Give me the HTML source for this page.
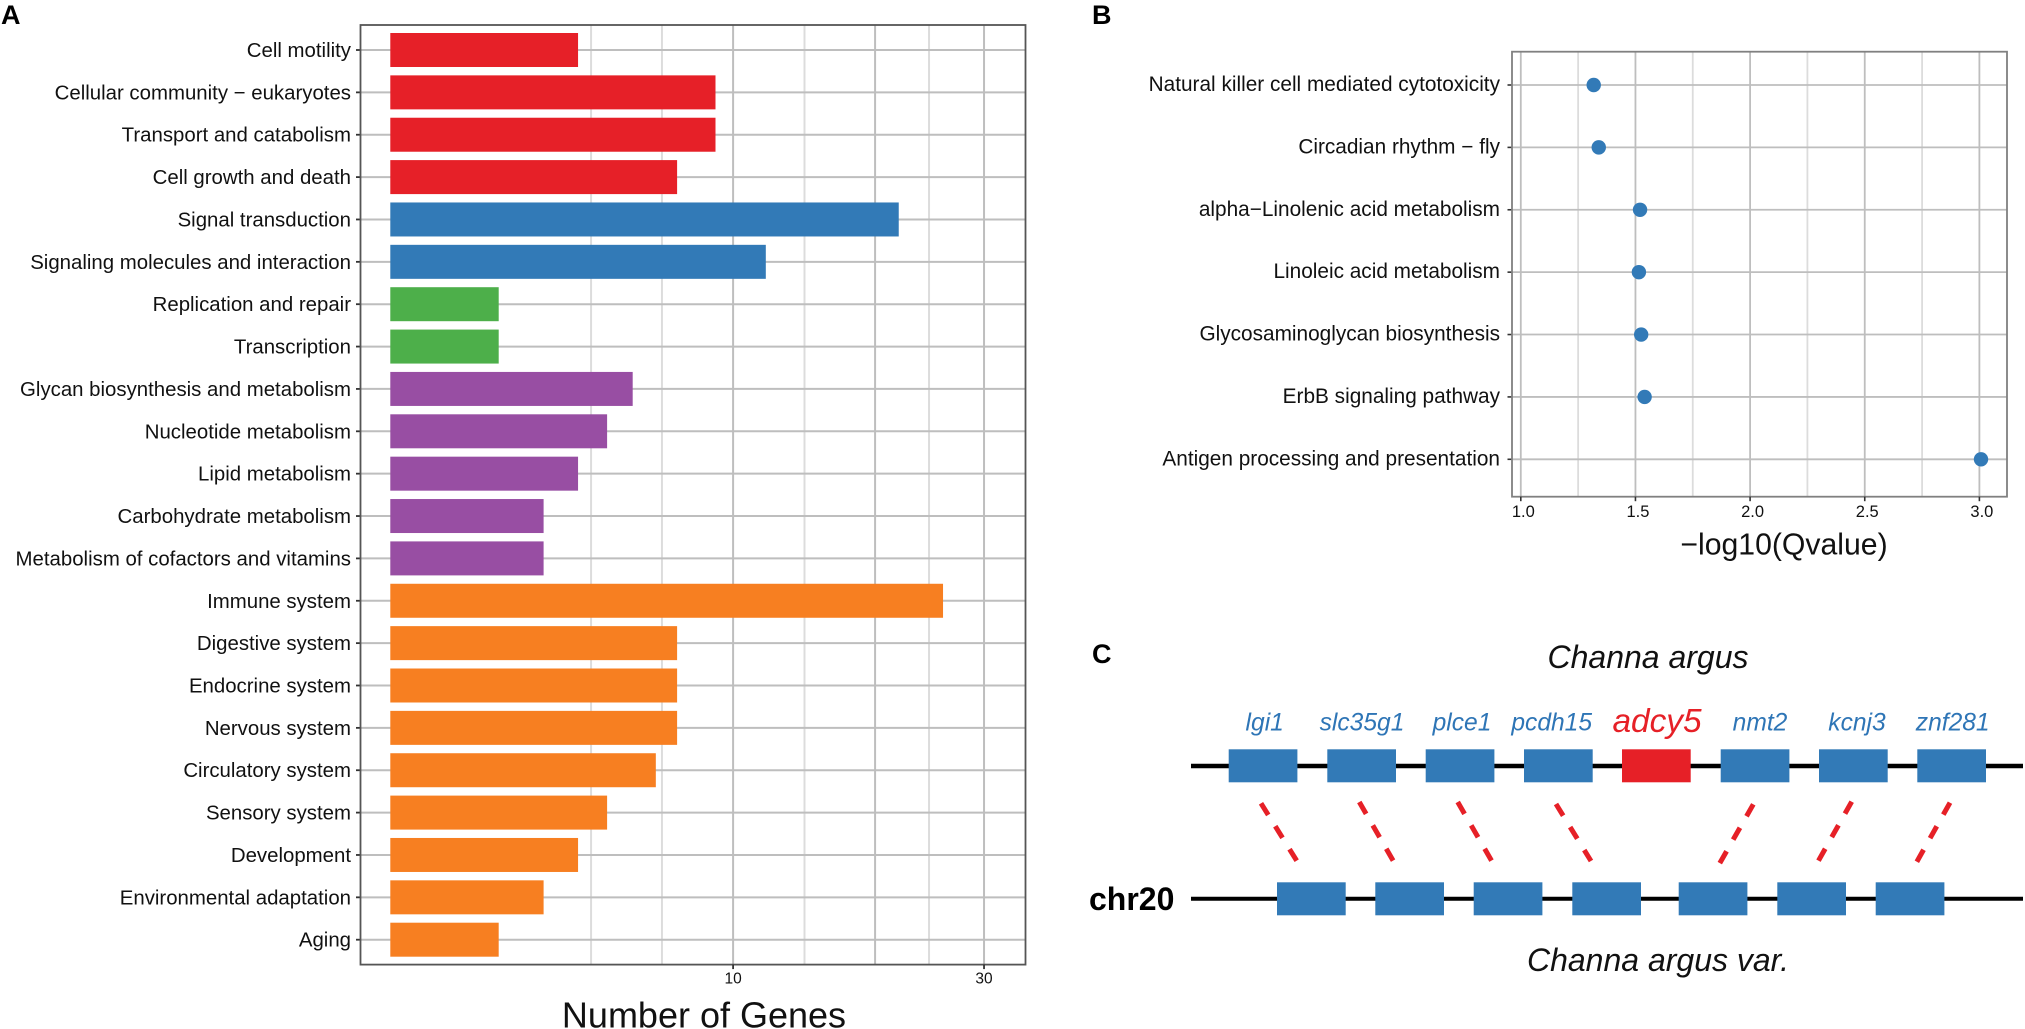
<!DOCTYPE html>
<html lang="en">
<head>
<meta charset="utf-8">
<title>Gene annotation figure</title>
<style>
html,body{margin:0;padding:0;background:#fff;width:2025px;height:1029px;overflow:hidden}
svg{display:block}
text{font-family:"Liberation Sans",Arial,sans-serif;fill:#111}
</style>
</head>
<body>
<svg id="figure" xmlns="http://www.w3.org/2000/svg" width="2025" height="1029" viewBox="0 0 2025 1029">
  <rect width="2025" height="1029" fill="#fff"/>
  <g id="panelA"></g>
  <g id="panelB"></g>
  <text x="1" y="24" font-size="27" font-weight="bold" style="fill:#000">A</text>
  <text x="1092" y="24" font-size="27" font-weight="bold" style="fill:#000">B</text>
  <text x="1092" y="663" font-size="27" font-weight="bold" style="fill:#000">C</text>

  <g>
    <text x="1648" y="668" font-size="32" font-style="italic" text-anchor="middle">Channa argus</text>
    <text x="1658" y="971" font-size="32" font-style="italic" text-anchor="middle">Channa argus var.</text>
    <text x="1089" y="910" font-size="32" font-weight="bold" style="fill:#000">chr20</text>

    <line x1="1191" y1="766" x2="2023" y2="766" stroke="#000" stroke-width="4.4"/>
    <line x1="1191" y1="898.7" x2="2023" y2="898.7" stroke="#000" stroke-width="4"/>

    <g fill="#327ab7" font-style="italic">
      <rect x="1228.7" y="749.3" width="68.7" height="33"/>
      <rect x="1327.3" y="749.3" width="68.7" height="33"/>
      <rect x="1425.7" y="749.3" width="68.7" height="33"/>
      <rect x="1524" y="749.3" width="68.7" height="33"/>
      <rect x="1622" y="749.3" width="68.7" height="33" fill="#e62027"/>
      <rect x="1720.7" y="749.3" width="68.7" height="33"/>
      <rect x="1819" y="749.3" width="68.7" height="33"/>
      <rect x="1917.3" y="749.3" width="68.7" height="33"/>

      <rect x="1277" y="882.3" width="68.7" height="33"/>
      <rect x="1375.3" y="882.3" width="68.7" height="33"/>
      <rect x="1473.7" y="882.3" width="68.7" height="33"/>
      <rect x="1572.3" y="882.3" width="68.7" height="33"/>
      <rect x="1678.7" y="882.3" width="68.7" height="33"/>
      <rect x="1777.3" y="882.3" width="68.7" height="33"/>
      <rect x="1875.7" y="882.3" width="68.7" height="33"/>
    </g>

    <g font-size="24.6" font-style="italic" text-anchor="middle">
      <text x="1264.7" y="730.7" style="fill:#2e75b6">lgi1</text>
      <text x="1362" y="730.7" style="fill:#2e75b6">slc35g1</text>
      <text x="1462" y="730.7" style="fill:#2e75b6">plce1</text>
      <text x="1551.7" y="730.7" style="fill:#2e75b6">pcdh15</text>
      <text x="1657" y="732" font-size="33.4" style="fill:#e62027">adcy5</text>
      <text x="1760" y="730.7" style="fill:#2e75b6">nmt2</text>
      <text x="1857" y="730.7" style="fill:#2e75b6">kcnj3</text>
      <text x="1952.7" y="730.7" style="fill:#2e75b6">znf281</text>
    </g>

    <g stroke="#e62027" stroke-width="5" stroke-dasharray="13.7 13.3" fill="none">
      <line x1="1261" y1="803.3" x2="1296.7" y2="860.7"/>
      <line x1="1359.3" y1="802" x2="1393.3" y2="861"/>
      <line x1="1457.7" y1="802" x2="1491.7" y2="861"/>
      <line x1="1556" y1="804" x2="1591" y2="861"/>
      <line x1="1753.3" y1="804.3" x2="1719.3" y2="864"/>
      <line x1="1851.7" y1="801.7" x2="1818.3" y2="861"/>
      <line x1="1950" y1="802.7" x2="1916.7" y2="862"/>
    </g>
  </g>
</svg>

<script>
// Panel A data
const barCategories = ["Cell motility","Cellular community \u2212 eukaryotes","Transport and catabolism","Cell growth and death","Signal transduction","Signaling molecules and interaction","Replication and repair","Transcription","Glycan biosynthesis and metabolism","Nucleotide metabolism","Lipid metabolism","Carbohydrate metabolism","Metabolism of cofactors and vitamins","Immune system","Digestive system","Endocrine system","Nervous system","Circulatory system","Sensory system","Development","Environmental adaptation","Aging"];
const barValues = [3,9,9,7,22,12,1,1,5,4,3,2,2,26,7,7,7,6,4,3,2,1];
const barGroups = ["cellular","cellular","cellular","cellular","environmental","environmental","genetic","genetic","metabolism","metabolism","metabolism","metabolism","metabolism","organismal","organismal","organismal","organismal","organismal","organismal","organismal","organismal","organismal"];
const barGroupColors = {cellular:"#e62028",environmental:"#327ab7",genetic:"#4daf4a",metabolism:"#984ea3",organismal:"#f77f21"};
const barMajorGrid = [10,20,30];
const barMinorGrid = [3.43,6.28,14.6,24.7];
const barTickLabels = [10,30];

// Panel B data
const dotCategories = ["Natural killer cell mediated cytotoxicity","Circadian rhythm \u2212 fly","alpha\u2212Linolenic acid metabolism","Linoleic acid metabolism","Glycosaminoglycan biosynthesis","ErbB signaling pathway","Antigen processing and presentation"];
const dotValues = [1.318,1.34,1.52,1.515,1.525,1.54,3.007];
const dotMajorTicks = [1.0,1.5,2.0,2.5,3.0];
const dotMinorGrid = [1.25,1.75,2.25,2.75];

const NS = "http://www.w3.org/2000/svg";
function make(parent, tag, attrs, text) {
  const el = document.createElementNS(NS, tag);
  for (const k in attrs) el.setAttribute(k, attrs[k]);
  if (text !== undefined) el.textContent = text;
  parent.appendChild(el);
  return el;
}
function slug(s) {
  return String(s).toLowerCase().replace(/[^a-z0-9]+/g, "-").replace(/^-|-$/g, "");
}

// ---------- Panel A ----------
const gA = document.getElementById("panelA");
const A = {left:360.5, right:1025.5, top:25, bottom:964.6};
const barX = v => 390.3 + 108.4 * Math.sqrt(v);
const barY = i => 50 + i * (889.7 / 21);
const barH = 34;

barMinorGrid.forEach(v => {
  const el = make(gA, "line", {x1:barX(v), x2:barX(v), y1:A.top, y2:A.bottom, stroke:"#dcdcdc", "stroke-width":2});
  
  
});
barMajorGrid.forEach(v => {
  const el = make(gA, "line", {x1:barX(v), x2:barX(v), y1:A.top, y2:A.bottom, stroke:"#bebebe", "stroke-width":2});
  
  
});
barCategories.forEach((c, i) => {
  const y = barY(i);
  const grid = make(gA, "line", {x1:A.left, x2:A.right, y1:y, y2:y, stroke:"#bebebe", "stroke-width":2});
  
  
  const tick = make(gA, "line", {x1:A.left - 4.5, x2:A.left, y1:y, y2:y, stroke:"#333", "stroke-width":1.8});
  
  
  const label = make(gA, "text", {x:351, y:y + 7, "font-size":20.4, "text-anchor":"end"}, c);
  
  
});
barValues.forEach((v, i) => {
  const bar = make(gA, "rect", {x:barX(0), y:barY(i) - barH / 2, width:barX(v) - barX(0), height:barH, fill:barGroupColors[barGroups[i]]});
  
  
});
const frameA = make(gA, "rect", {x:A.left, y:A.top, width:A.right - A.left, height:A.bottom - A.top, fill:"none", stroke:"#555", "stroke-width":1.8});


barTickLabels.forEach(v => {
  const tick = make(gA, "line", {x1:barX(v), x2:barX(v), y1:A.bottom, y2:A.bottom + 4.5, stroke:"#333", "stroke-width":1.8});
  
  
  const label = make(gA, "text", {x:barX(v), y:983.3, "font-size":15.5, "text-anchor":"middle"}, v);
  
  
});
const titleA = make(gA, "text", {x:704, y:1027.3, "font-size":36, "text-anchor":"middle"}, "Number of Genes");



// ---------- Panel B ----------
const gB = document.getElementById("panelB");
const B = {left:1512, right:2007, top:51.7, bottom:496.7};
const dotX = v => 1520.8 + (v - 1) * 229.3;
const dotY = i => 85 + i * (374.3 / 6);

dotMinorGrid.forEach(v => {
  const el = make(gB, "line", {x1:dotX(v), x2:dotX(v), y1:B.top, y2:B.bottom, stroke:"#dcdcdc", "stroke-width":1.8});
  
  
});
dotMajorTicks.forEach(v => {
  const el = make(gB, "line", {x1:dotX(v), x2:dotX(v), y1:B.top, y2:B.bottom, stroke:"#bebebe", "stroke-width":1.8});
  
  
});
dotCategories.forEach((c, i) => {
  const y = dotY(i);
  const grid = make(gB, "line", {x1:B.left, x2:B.right, y1:y, y2:y, stroke:"#bebebe", "stroke-width":1.8});
  
  
  const tick = make(gB, "line", {x1:B.left - 4.5, x2:B.left, y1:y, y2:y, stroke:"#333", "stroke-width":1.6});
  
  
  const label = make(gB, "text", {x:1500, y:y + 6, "font-size":20.8, "text-anchor":"end"}, c);
  
  
});
const frameB = make(gB, "rect", {x:B.left, y:B.top, width:B.right - B.left, height:B.bottom - B.top, fill:"none", stroke:"#808080", "stroke-width":1.8});


dotValues.forEach((v, i) => {
  const dot = make(gB, "circle", {cx:dotX(v), cy:dotY(i), r:7.2, fill:"#327ab7"});
  
  
});
dotMajorTicks.forEach(v => {
  const tick = make(gB, "line", {x1:dotX(v), x2:dotX(v), y1:B.bottom, y2:B.bottom + 4.5, stroke:"#333", "stroke-width":1.6});
  
  
  const label = make(gB, "text", {x:dotX(v) + 2.5, y:517, "font-size":16.5, "text-anchor":"middle"}, v.toFixed(1));
  
  
});
const titleB = make(gB, "text", {x:1784, y:554.3, "font-size":30.2, "text-anchor":"middle"}, "\u2212log10(Qvalue)");


</script>
</body>
</html>
